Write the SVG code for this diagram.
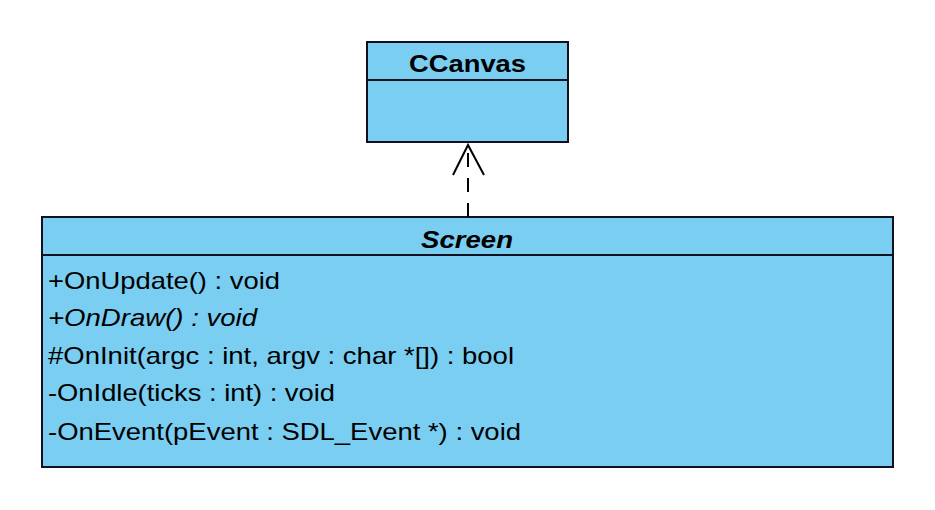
<svg xmlns="http://www.w3.org/2000/svg" width="935" height="510" viewBox="0 0 935 510">
<style>
.box{fill:#79cef2;stroke:#111122;stroke-width:2}
.div{stroke:#111122;stroke-width:2}
.t{font-family:"Liberation Sans",Arial,sans-serif;font-size:24px;fill:#000}
.title{font-weight:bold;text-anchor:middle}
.it{font-style:italic}
.conn{stroke:#000;stroke-width:2;fill:none}
</style>
<rect width="935" height="510" fill="#fff"/>
<g id="CCanvas">
<rect class="box" x="367" y="42" width="201" height="100"/>
<line class="div" x1="367" y1="80" x2="568" y2="80"/>
<text class="t title" x="467.5" y="72" textLength="117" lengthAdjust="spacingAndGlyphs">CCanvas</text>
</g>
<g id="Screen">
<rect class="box" x="42" y="217" width="851" height="250"/>
<line class="div" x1="42" y1="255" x2="893" y2="255"/>
<text class="t title it" x="467" y="248" textLength="92" lengthAdjust="spacingAndGlyphs">Screen</text>
<text class="t" x="48" y="289" textLength="232" lengthAdjust="spacingAndGlyphs">+OnUpdate() : void</text>
<text class="t it" x="48" y="326" textLength="209" lengthAdjust="spacingAndGlyphs">+OnDraw() : void</text>
<text class="t" x="48" y="364" textLength="466" lengthAdjust="spacingAndGlyphs">#OnInit(argc : int, argv : char *[]) : bool</text>
<text class="t" x="48" y="401" textLength="287" lengthAdjust="spacingAndGlyphs">-OnIdle(ticks : int) : void</text>
<text class="t" x="48" y="440" textLength="473" lengthAdjust="spacingAndGlyphs">-OnEvent(pEvent : SDL_Event *) : void</text>
</g>
<g id="connectors">
<line class="conn" x1="468" y1="153" x2="468" y2="217" stroke-dasharray="14,11"/>
<polyline class="conn" points="453,175 468,145 484,175"/>
</g>
</svg>
